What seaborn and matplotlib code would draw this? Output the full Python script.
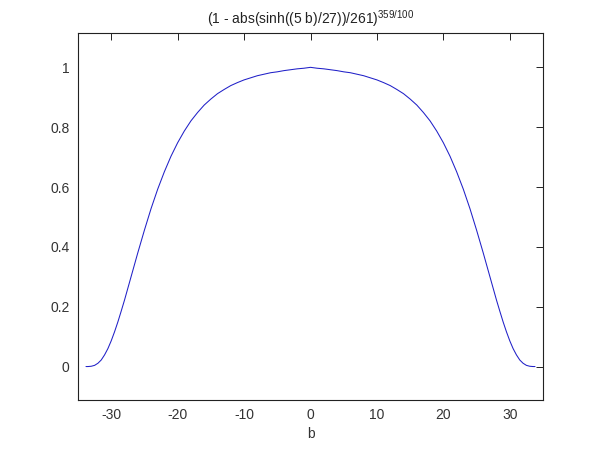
import matplotlib
matplotlib.use("Agg")
import matplotlib.pyplot as plt
import seaborn as sns
import pandas as pd

b_vals = [-33.8, -33.5, -33, -32.5, -32, -31.5, -31, -30.5, -30, -29.5, -29, -28.5, -28,
          -27, -26, -25, -24, -23, -22, -21, -20, -19, -18, -17, -16, -15, -14, -13,
          -12, -11, -10, -9, -8, -7, -6, -5, -4, -3, -2, -1, 0,
          1, 2, 3, 4, 5, 6, 7, 8, 9, 10, 11, 12, 13, 14, 15, 16, 17, 18, 19, 20,
          21, 22, 23, 24, 25, 26, 27, 28, 28.5, 29, 29.5, 30, 30.5, 31, 31.5, 32,
          32.5, 33, 33.5, 33.8]
y_vals = [0.0, 0.0, 0.001, 0.004, 0.011, 0.022, 0.039, 0.060, 0.086, 0.116, 0.149, 0.185, 0.222,
          0.301, 0.380, 0.456, 0.528, 0.593, 0.651, 0.703, 0.748, 0.787, 0.821, 0.849, 0.874,
          0.894, 0.912, 0.926, 0.939, 0.949, 0.958, 0.965, 0.972, 0.977, 0.982, 0.985, 0.989,
          0.992, 0.995, 0.997, 1.0,
          0.997, 0.995, 0.992, 0.989, 0.985, 0.982, 0.977, 0.972, 0.965, 0.958, 0.949, 0.939,
          0.926, 0.912, 0.894, 0.874, 0.849, 0.821, 0.787, 0.748, 0.703, 0.651, 0.593, 0.528,
          0.456, 0.380, 0.301, 0.222, 0.185, 0.149, 0.116, 0.086, 0.060, 0.039, 0.022, 0.011,
          0.004, 0.001, 0.0, 0.0]
x_ticks = [-30, -20, -10, 0, 10, 20, 30]
y_ticks = [0, 0.2, 0.4, 0.6, 0.8, 1]
y_tick_labels = ["0", "0.2", "0.4", "0.6", "0.8", "1"]

sns.set_style("white")
plt.rcParams['font.family'] = ['Liberation Sans', 'DejaVu Sans']
plt.rcParams['mathtext.fontset'] = 'custom'
plt.rcParams['mathtext.rm'] = 'Liberation Sans'

df = pd.DataFrame({"b": b_vals, "y": y_vals})

fig = plt.figure(figsize=(6.0, 4.49), dpi=100, facecolor="white")
ax = fig.add_axes([0.13, 0.109, 0.775, 0.817])
sns.lineplot(data=df, x="b", y="y", ax=ax, color="#2020c8", linewidth=0.75,
             sort=False, estimator=None)

ax.set_xlim(-35, 35)
ax.set_ylim(-0.112, 1.114)
ax.set_xticks(x_ticks)
ax.set_xticklabels([str(t) for t in x_ticks])
ax.set_yticks(y_ticks)
ax.set_yticklabels(y_tick_labels)
ax.tick_params(direction="in", length=5, width=0.7, top=True, right=True,
               labelsize=10, colors="#222222", pad=6)
ax.tick_params(axis="both", labelcolor="#333333")
for s in ax.spines.values():
    s.set_color("#222222")
    s.set_linewidth(0.8)
ax.set_xlabel("b", fontsize=10, color="#333333", labelpad=3)
ax.set_ylabel("")
ax.set_title(r"(1 - abs(sinh((5 b)/27))/261)$^{\mathregular{359/100}}$", fontsize=10,
             color="#222222", pad=7)

fig.savefig("out.png", dpi=100, facecolor="white")
